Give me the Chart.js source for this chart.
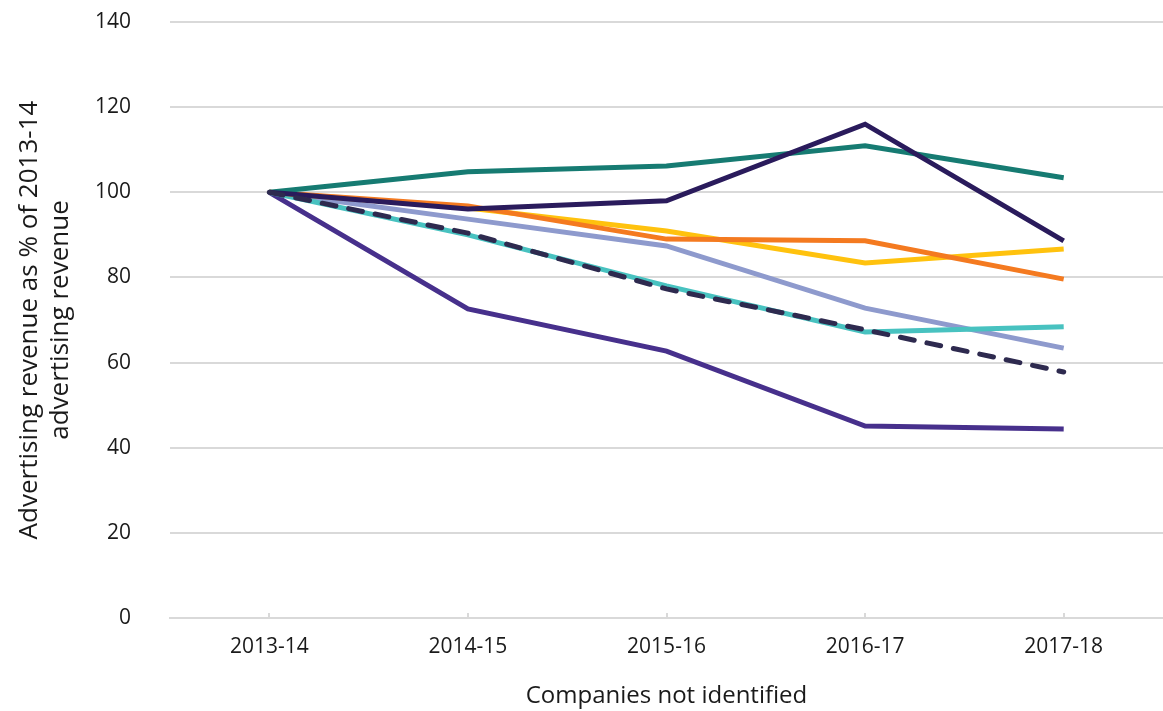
<!DOCTYPE html>
<html>
<head>
<meta charset="utf-8">
<script src="https://cdn.jsdelivr.net/npm/chart.js@4"></script>
<style>
  html, body { margin: 0; padding: 0; background: #fff; }
  #wrap { width: 1163px; height: 711px; }
</style>
</head>
<body>
<div id="wrap"><canvas id="chart"></canvas></div>
<script>
// Advertising revenue index, 2013-14 = 100
const years = ['2013-14', '2014-15', '2015-16', '2016-17', '2017-18'];
const yTicks = [0, 20, 40, 60, 80, 100, 120, 140];

const averageDashed = [100, 90.4, 77.3, 67.7, 57.8];
const seriesTeal = [100, 104.8, 106.2, 110.9, 103.4];
const seriesNavy = [100, 96.1, 98, 116, 88.6];
const seriesOrange = [100, 96.8, 89, 88.6, 79.6];
const seriesYellow = [100, 96.3, 90.9, 83.4, 86.7];
const seriesLavender = [100, 93.7, 87.4, 72.8, 63.4];
const seriesTurquoise = [100, 90, 78, 67.2, 68.4];
const seriesPurple = [100, 72.6, 62.7, 45.1, 44.4];

const font = '"Open Sans", Lato, sans-serif';

function line(label, data, color, dash) {
    return {
        label: label,
        data: data,
        borderColor: color,
        backgroundColor: color,
        borderWidth: 5,
        borderDash: dash || [],
        borderCapStyle: dash ? 'round' : 'butt',
        pointRadius: 0,
        tension: 0,
        fill: false
    };
}

const chart = new Chart(document.getElementById('chart'), {
    type: 'line',
    data: {
        labels: years,
        datasets: [
            line('Average', averageDashed, '#2e2a4f', [14, 13]),
            line('Company A', seriesNavy, '#2a1b5c'),
            line('Company B', seriesTeal, '#167b72'),
            line('Company C', seriesOrange, '#f47a20'),
            line('Company D', seriesYellow, '#ffc20e'),
            line('Company E', seriesTurquoise, '#48c2c0'),
            line('Company F', seriesLavender, '#8e9acd'),
            line('Company G', seriesPurple, '#47308c')
        ]
    },
    options: {
        responsive: true,
        maintainAspectRatio: false,
        animation: false,
        layout: { padding: { top: 0, right: 0, left: 14, bottom: 0 } },
        plugins: {
            legend: { display: false },
            tooltip: { enabled: false }
        },
        scales: {
            x: {
                offset: true,
                grid: { color: '#d9d9d9', lineWidth: 2, drawOnChartArea: false, tickLength: -5 },
                border: { color: '#d9d9d9', width: 2 },
                ticks: { color: '#1a1a1a', font: { family: font, size: 21 }, padding: 21 },
                title: {
                    display: true,
                    text: 'Companies not identified',
                    color: '#1a1a1a',
                    font: { family: font, size: 24 },
                    padding: { top: 2, bottom: 0 }
                }
            },
            y: {
                min: 0,
                max: 140,
                afterBuildTicks: (axis) => { axis.ticks = yTicks.map(v => ({ value: v })); },
                afterFit: (axis) => {
                    axis.width = 156;
                    axis.paddingTop = 22;
                    axis.paddingBottom = 12;
                },
                grid: { color: '#d9d9d9', lineWidth: 2, drawTicks: false },
                border: { display: false },
                ticks: { color: '#1a1a1a', font: { family: font, size: 21 }, padding: 39 },
                title: {
                    display: true,
                    text: ['Advertising revenue as % of 2013-14', 'advertising revenue'],
                    color: '#1a1a1a',
                    font: { family: font, size: 26 },
                    padding: { top: 0, bottom: 10 }
                }
            }
        }
    }
});
</script>
</body>
</html>
